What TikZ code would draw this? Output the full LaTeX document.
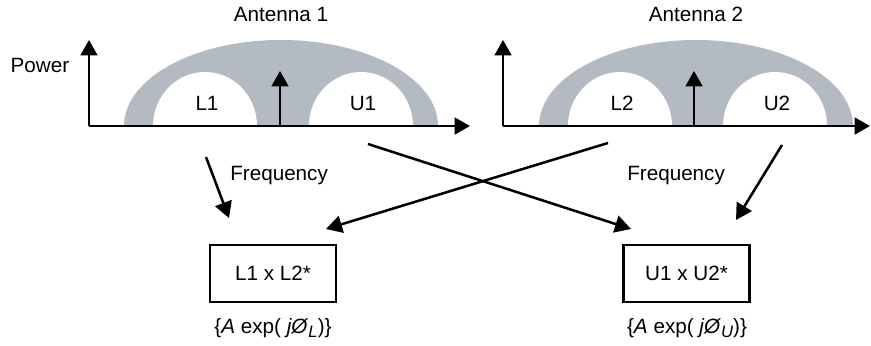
\documentclass[tikz,border=0pt]{standalone}
\usepackage{fontspec}
\setmainfont{Liberation Sans}
\usetikzlibrary{arrows.meta}
\definecolor{band}{RGB}{180,186,194}
\tikzset{
  lbl/.style={font=\fontsize{15.5}{17}\selectfont, inner sep=0pt},
  axis/.style={line width=1.9pt, -{Triangle[length=11.5pt,width=12.5pt]}},
  conn/.style={line width=1.9pt, -{Triangle[length=12pt,width=13pt]}},
  prodbox/.style={draw, line width=1.9pt, minimum width=94.5pt, minimum height=42.75pt, inner sep=0pt, font=\fontsize{15.5}{17}\selectfont}
}
\begin{document}
\begin{tikzpicture}[x=0.75pt,y=-0.75pt]
\useasboundingbox (0,0) rectangle (871,346);
% spectra
\foreach \c/\l/\u in {281/205/361, 696/620/775}{
  \fill[band] (\c-157,126) arc[start angle=180,end angle=0,x radius=157,y radius=-86] -- cycle;
  \fill[white] (\l-52,126) arc[start angle=180,end angle=0,x radius=52,y radius=-54] -- cycle;
  \fill[white] (\u-52,126) arc[start angle=180,end angle=0,x radius=52,y radius=-54] -- cycle;
}
% axes
\coordinate (o1) at (89,126);
\coordinate (o2) at (503,126);
\draw[axis] (o1) -- (89,40);
\draw[axis] (o1) -- (470,126);
\draw[axis] (o2) -- (503,40);
\draw[axis] (o2) -- (870,126);
\draw[axis] (280,126) -- (280,71);
\draw[axis] (694,126) -- (694,71);
% labels
\node[lbl, anchor=base] (t1) at (281,22) {Antenna 1};
\node[lbl, anchor=base] (t2) at (696,22) {Antenna 2};
\node[lbl, anchor=base] (pw) at (40,73) {Power};
\node[lbl, anchor=base] (l1) at (207,110) {L1};
\node[lbl, anchor=base] (u1) at (363,110) {U1};
\node[lbl, anchor=base] (l2) at (622,110) {L2};
\node[lbl, anchor=base] (u2) at (777,110) {U2};
\node[lbl, anchor=base west] (f1) at (230,180) {Frequency};
\node[lbl, anchor=base west] (f2) at (627,180) {Frequency};
% boxes
\node[prodbox] (b1) at (273,273.5) {L1 x L2*};
\node[prodbox] (b2) at (686.5,273.5) {U1 x U2*};
\node[lbl, anchor=base] (e1) at (273,333) {\{\textit{A} exp( \textit{jØ}\raisebox{-0.4ex}{\fontsize{12.5}{14}\selectfont\itshape L})\}};
\node[lbl, anchor=base] (e2) at (687,333) {\{\textit{A} exp( \textit{jØ}\raisebox{-0.4ex}{\fontsize{12.5}{14}\selectfont\itshape U})\}};
% connectors
\coordinate (a1s) at (206,157); \coordinate (a1e) at (229,218);
\coordinate (a2s) at (368,144); \coordinate (a2e) at (631,229);
\coordinate (a3s) at (608,143); \coordinate (a3e) at (326,229);
\coordinate (a4s) at (782,145); \coordinate (a4e) at (736,220);
\draw[conn] (a1s) -- (a1e);
\draw[conn] (a2s) -- (a2e);
\draw[conn] (a3s) -- (a3e);
\draw[conn] (a4s) -- (a4e);
\end{tikzpicture}
\end{document}
